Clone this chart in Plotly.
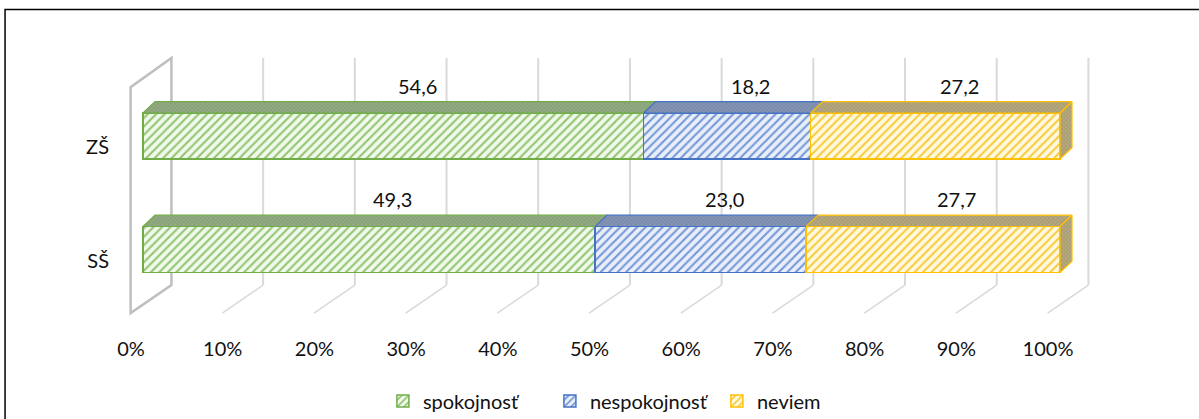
import plotly.graph_objects as go

# data
categories = ["ZŠ", "SŠ"]
cat_pos = [1, 0]
series_names = ["spokojnosť", "nespokojnosť", "neviem"]
spokojnost = [54.6, 49.3]
nespokojnost = [18.2, 23.0]
neviem = [27.2, 27.7]
tick_vals = [0, 10, 20, 30, 40, 50, 60, 70, 80, 90, 100]
tick_text = [f"{t}%" for t in tick_vals]

series = [spokojnost, nespokojnost, neviem]

# colours: edge, stripe, light bg, top face bg, top face dots
edge = ["#70AD47", "#4472C4", "#FFC000"]
stripe = ["#92C572", "#7498D8", "#F8CB3E"]
light = ["#F1F8EC", "#E9EFF9", "#FFF9E0"]
top_bg = ["#93AA82", "#8494B3", "#B5A87E"]
top_fg = ["#66825A", "#56678D", "#86774E"]

FONT = "Lato"
bar_w = 0.405
ddx, ddy = 1.31, 0.1             # depth of the bars
front_dx, back_dx = -1.35, 3.1   # floor / wall planes
front_y = (-0.56, 1.43)
back_y = (-0.313, 1.687)

fig = go.Figure()

# front faces
for name, vals, i in zip(series_names, series, range(3)):
    fig.add_trace(go.Bar(
        y=cat_pos, x=vals, orientation="h", name=name, width=bar_w,
        marker=dict(color=light[i], line=dict(color=edge[i], width=1.5),
                    pattern=dict(shape="/", fgcolor=stripe[i], bgcolor=light[i],
                                 size=6, solidity=0.35, fillmode="replace")),
        hoverinfo="skip",
    ))

# top faces and the right side
cum = [0.0, 0.0]
for i, vals in enumerate(series):
    xs, ys = [], []
    for j, v in enumerate(vals):
        x0, x1 = cum[j], cum[j] + v
        yt = cat_pos[j] + bar_w / 2
        xs += [x0, x1, x1 + ddx, x0 + ddx, x0, None]
        ys += [yt, yt, yt + ddy, yt + ddy, yt, None]
        if i == len(series) - 1:
            yb = cat_pos[j] - bar_w / 2
            xs += [x1, x1 + ddx, x1 + ddx, x1, x1, None]
            ys += [yb, yb + ddy, yt + ddy, yt, yb, None]
    fig.add_trace(go.Scatter(
        x=xs, y=ys, mode="lines", fill="toself", showlegend=False, hoverinfo="skip",
        line=dict(color=edge[i], width=1.2),
        fillcolor=top_bg[i],
        fillpattern=dict(shape="x", fgcolor=top_fg[i], bgcolor=top_bg[i], size=3, solidity=0.3),
    ))
    # data labels
    for j, v in enumerate(vals):
        fig.add_annotation(
            x=cum[j] + v / 2 + 2.6, y=cat_pos[j] + bar_w / 2 + 0.24,
            text=f"{v:.1f}".replace(".", ","), showarrow=False,
            font=dict(family=FONT, size=20, color="#111111"),
        )
        cum[j] += v

# wall and gridlines
shapes = []
shapes.append(dict(
    type="path", layer="below",
    path=(f"M {front_dx},{front_y[0]} L {front_dx},{front_y[1]} "
          f"L {back_dx},{back_y[1]} L {back_dx},{back_y[0]} Z"),
    line=dict(color="#BFBFBF", width=2.5),
))
for t in tick_vals[1:]:
    shapes.append(dict(type="line", layer="below", x0=t + back_dx, x1=t + back_dx,
                       y0=back_y[0], y1=back_y[1], line=dict(color="#D9D9D9", width=2)))
    shapes.append(dict(type="line", layer="below", x0=t + front_dx, x1=t + back_dx,
                       y0=front_y[0], y1=back_y[0], line=dict(color="#D9D9D9", width=1.5)))
# chart border
shapes.append(dict(type="rect", xref="paper", yref="paper", x0=-0.1128, x1=2, y0=-2, y1=1.107,
                   line=dict(color="#000000", width=1.5)))

fig.update_layout(
    width=1199, height=419,
    margin=dict(l=120, r=60, t=40, b=94, autoexpand=False),
    barmode="stack",
    plot_bgcolor="white", paper_bgcolor="white",
    font=dict(family=FONT, size=20, color="#111111"),
    shapes=shapes,
    showlegend=True,
    legend=dict(orientation="h", xanchor="left", x=0.258, yanchor="middle", y=-0.267,
                traceorder="normal", font=dict(family=FONT, size=20), itemwidth=30,
                entrywidth=122),
    xaxis=dict(range=[-2.508, 108.615], tickvals=tick_vals, ticktext=tick_text,
               showgrid=False, zeroline=False, showline=False, ticks="", automargin=False,
               ticklabelshift=-12, ticklabelstandoff=10, fixedrange=True),
    yaxis=dict(range=[-0.6652, 1.8458], tickvals=cat_pos, ticktext=categories,
               showgrid=False, zeroline=False, showline=False, ticks="", automargin=False,
               ticklabelshift=11, ticklabelstandoff=10, fixedrange=True),
)

# drop the page's default body margin so the chart sits at 0,0
fig.write_html("out.html", config={"displayModeBar": False},
               post_script="document.body.style.margin='0px';document.body.style.overflow='hidden';")
